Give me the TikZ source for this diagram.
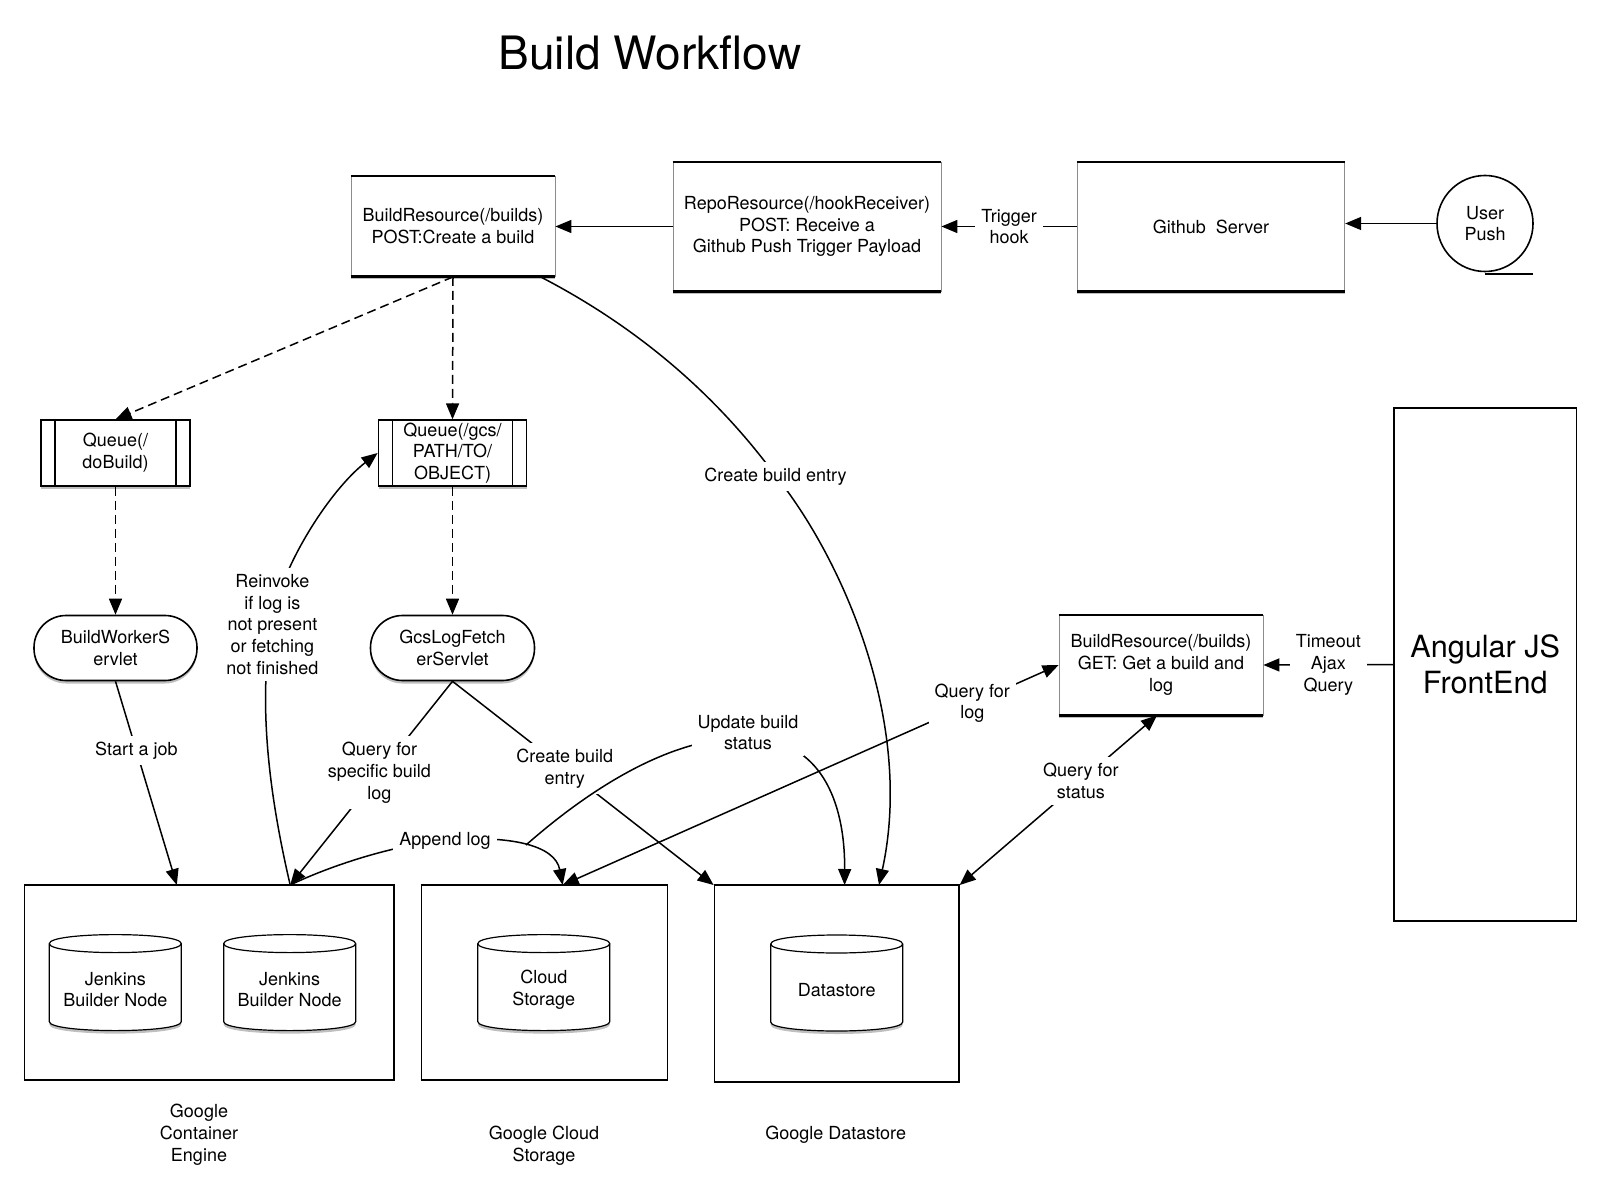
\documentclass[tikz,border=0pt]{standalone}
\usepackage{fontspec}
\setmainfont{TeX Gyre Heros}
\usetikzlibrary{arrows.meta,shadows,calc}

\newcommand{\mycyl}[4]{%
  \draw[line width=0.6pt, fill=white, shad]
    ({#2-66},{#3-39}) -- ({#2-66},{#3+39})
    .. controls ({#2-66},{#3+51}) and ({#2+66},{#3+51}) .. ({#2+66},{#3+39})
    -- ({#2+66},{#3-39})
    .. controls ({#2+66},{#3-51}) and ({#2-66},{#3-51}) .. ({#2-66},{#3-39}) -- cycle;
  \draw[line width=0.6pt] ({#2-66},{#3-39})
    .. controls ({#2-66},{#3-27}) and ({#2+66},{#3-27}) .. ({#2+66},{#3-39});
  \node[txt] (#1) at (#2,{#3+7}) {#4};
}

\begin{document}
\begin{tikzpicture}[x=0.5pt,y=-0.5pt,
  txt/.style={font=\fontsize{9}{10.9}\selectfont, align=center},
  lbl/.style={txt, fill=white, inner sep=3pt},
  conn/.style={line width=0.75pt, -{Triangle[length=8pt,width=6.5pt]}},
  dconn/.style={conn, dash pattern=on 4.5pt off 2.5pt},
  biconn/.style={line width=0.75pt, {Triangle[length=8pt,width=6.5pt]}-{Triangle[length=8pt,width=6.5pt]}},
  shad/.style={drop shadow={shadow xshift=0pt, shadow yshift=-1.5pt, opacity=0.25, fill=black}},
  barbox/.style={txt, draw=black!45, line width=0.4pt, fill=white, shad, inner sep=2pt},
  queuebox/.style={txt, draw, line width=0.9pt, fill=white, shad, inner sep=0pt},
  servletbox/.style={txt, draw, line width=0.8pt, fill=white, shad, rounded corners=16pt, inner sep=0pt},
  gbox/.style={draw, line width=0.7pt, inner sep=0pt},
]
\fill[white] (0,0) rectangle (1600,1192);
\useasboundingbox (0,0) rectangle (1600,1192);

% title
\node[txt, font=\fontsize{23}{27}\selectfont] (title) at (650,53) {Build Workflow};

% top row
\node[barbox, minimum width=102pt, minimum height=50pt] (br) at (453,226.5) {BuildResource(/builds)\\POST:Create a build};
\node[barbox, minimum width=134pt, minimum height=64.5pt] (repo) at (807,226.5) {RepoResource(/hookReceiver)\\POST: Receive a\\Github Push Trigger Payload};
\node[barbox, minimum width=133.75pt, minimum height=64.5pt] (gh) at (1211,226.5) {Github\ \ Server};
\node[txt, draw, circle, line width=0.8pt, minimum size=48pt, inner sep=0pt, fill=white] (up) at (1485,223.5) {User\\Push};
\draw[line width=0.8pt] ([yshift=-1pt]up.south) -- ([xshift=24pt,yshift=-1pt]up.south);

\node[barbox, minimum width=102pt, minimum height=50pt] (get) at (1161,665) {BuildResource(/builds)\\GET: Get a build and\\log};

\foreach \n in {br,repo,gh,get} {
  \draw[line width=1pt] (\n.north west) -- (\n.north east);
  \draw[line width=1.5pt] (\n.south west) -- (\n.south east);
}

% queues
\node[queuebox, minimum width=74.5pt, minimum height=32.75pt] (q1) at (115.5,453) {Queue(/\\doBuild)};
\node[queuebox, minimum width=74pt, minimum height=32.75pt] (q2) at (452.5,453) {Queue(/gcs/\\PATH/TO/\\OBJECT)};
\foreach \n in {q1,q2} {
  \draw[line width=0.7pt] ([xshift=7.5pt]\n.north west) -- ([xshift=7.5pt]\n.south west);
  \draw[line width=0.7pt] ([xshift=-7.5pt]\n.north east) -- ([xshift=-7.5pt]\n.south east);
}

% servlets
\node[servletbox, minimum width=81.5pt, minimum height=32.5pt] (bws) at (115.5,648) {BuildWorkerS\\ervlet};
\node[servletbox, minimum width=82pt, minimum height=32.5pt] (gcs) at (452.5,648) {GcsLogFetch\\erServlet};

% angular
\node[draw, line width=0.9pt, minimum width=91.25pt, minimum height=256.7pt, inner sep=0pt,
      font=\fontsize{15.3}{17.9}\selectfont, align=center] (ang) at (1485.25,664.5) {Angular JS\\FrontEnd};

% group boxes
\node[gbox, minimum width=184.75pt, minimum height=96.95pt] (gce) at (209.25,982.65) {};
\node[gbox, minimum width=122.95pt, minimum height=96.95pt] (cs) at (544.35,982.65) {};
\node[gbox, minimum width=122.35pt, minimum height=97.95pt] (ds) at (836.65,983.65) {};
\foreach \n in {gce,cs,ds} {
  \draw[line width=1.4pt] (\n.north west) -- (\n.north east);
  \draw[line width=1.1pt] (\n.south west) -- (\n.south east);
}

\mycyl{jb1}{115.3}{982.6}{Jenkins\\Builder Node}
\mycyl{jb2}{289.7}{982.6}{Jenkins\\Builder Node}
\mycyl{cst}{543.8}{982.6}{Cloud\\Storage}
\mycyl{dst}{836.7}{983}{Datastore}

\node[txt] (gcel) at (199,1135) {Google\\Container\\Engine};
\node[txt] (csl) at (544,1145.5) {Google Cloud\\Storage};
\node[txt] (dsl) at (835.7,1135) {Google Datastore};

% attachment points
\coordinate (gceA) at ([xshift=76.5pt]gce.north west);
\coordinate (gceB) at ([xshift=133.2pt]gce.north west);
\coordinate (csA) at ([xshift=71pt]cs.north west);
\coordinate (dsA) at ([xshift=65.5pt]ds.north west);
\coordinate (dsB) at ([xshift=82.7pt]ds.north west);
\coordinate (brA) at ([xshift=95pt]br.south west);

% top connectors
\draw[conn] (up.west) -- (up.west -| gh.east);
\draw[conn] (gh.west) -- node[lbl]{Trigger\\hook} (repo.east);
\draw[conn] (repo.west) -- (br.east);

% dashed
\draw[dconn] (br.south) -- (q1.north);
\draw[dconn] (br.south) -- (q2.north);
\draw[dconn] (q1.south) -- (bws.north);
\draw[dconn] (q2.south) -- (gcs.north);

% straight labelled
\draw[conn] (bws.south) -- node[lbl, pos=0.34]{Start a job} (gceA);
\draw[conn] (gcs.south) -- node[lbl, pos=0.45]{Query for\\specific build\\log} (gceB);
\draw[conn] (gcs.south) -- node[lbl, pos=0.43]{Create build\\entry} (ds.north west);

% reinvoke
\draw[conn] (gceB) .. controls (268,790) and (258,700) .. (272,620)
  .. controls (282,565) and (330,490) .. (q2.west);
\node[lbl] (reinv) at (272.4,624.5) {Reinvoke\\if log is\\not present\\or fetching\\not finished};

% big create build entry
\draw[conn] (brA) .. controls (620,318) and (705,380) .. (775,475)
  .. controls (840,555) and (915,720) .. (dsB);
\node[lbl] (cbe) at (775.5,476.5) {Create build entry};

% query for log / status
\draw[biconn] (get.west) -- node[lbl, pos=0.174]{Query for\\log} (csA);
\draw[biconn] ([xshift=-2pt]get.south) -- node[lbl, pos=0.386]{Query for\\status} (ds.north east);

% timeout
\draw[conn] (ang.west) -- node[lbl]{Timeout\\Ajax\\Query} (get.east);

% append log
\draw[conn] (gceB) .. controls (330,866) and (390,846) .. (445,840)
  .. controls (510,835) and (555,845) .. (csA);
\node[lbl] (applbl) at (445,841) {Append log};

% update build status
\coordinate (ub) at (526,845);
\draw[conn] (ub) .. controls (600,780) and (680,735) .. (750,738)
  .. controls (820,740) and (845,800) .. (dsA);
\node[lbl] (updlbl) at (748,732.5) {Update build\\status};

\end{tikzpicture}
\end{document}
